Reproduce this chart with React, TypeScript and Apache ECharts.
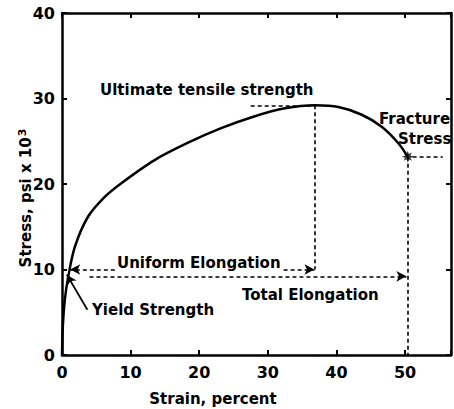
import React, { useEffect, useRef } from "react";
import * as echarts from "echarts";

// Engineering stress–strain curve (strain in %, stress in psi × 10³)
const strain = [0, 0.1, 0.4, 0.91, 1.88, 3.81, 6.23, 8.65, 13.5, 18.3, 23.1, 28.0, 32.5, 36.9, 40.3, 43.7, 46.6, 49.0, 50.4];
const stress = [0, 3.0, 6.4, 9.16, 12.67, 16.2, 18.5, 20.1, 22.8, 24.8, 26.5, 27.9, 28.85, 29.2, 29.0, 28.1, 26.7, 24.8, 23.2];

const xTicks = [0, 10, 20, 30, 40, 50];
const yTicks = [0, 10, 20, 30, 40];

// Key points on the curve
const ultimate = [36.9, 29.2];
const fracture = [50.4, 23.2];
const yieldPoint = [0.7, 9.4];
const uniformLevel = 10.0;
const totalLevel = 9.2;

const FONT = "DejaVu Sans";
const INK = "#000";

const starPath =
  "path://M0,-10 L1.8,-4.3 L7,-7 L4.3,-1.8 L10,0 L4.3,1.8 L7,7 L1.8,4.3 L0,10 L-1.8,4.3 L-7,7 L-4.3,1.8 L-10,0 L-4.3,-1.8 L-7,-7 L-1.8,-4.3 Z";

export default function App() {
  const ref = useRef<HTMLDivElement>(null);

  useEffect(() => {
    if (!ref.current) return;
    const chart = echarts.init(ref.current, undefined, { renderer: "svg" });

    const axisLine = { show: true, onZero: false, lineStyle: { color: INK, width: 2.5 } };
    const tick = { show: true, inside: true, length: 5, lineStyle: { color: INK, width: 2 } };
    const tickLabel = { color: INK, fontFamily: FONT, fontWeight: "bold" as const, fontSize: 16 };

    const dashed = { type: [4, 3] as number[], width: 1.6, color: INK };
    const seg = (a: number[], b: number[], arrowEnd = false, extra: any = {}) => [
      { coord: a, symbol: "none", ...extra },
      { coord: b, symbol: arrowEnd ? "arrow" : "none" },
    ];

    const txt = (text: string, x: number, y: number, align = "left") => ({
      type: "text",
      x,
      y,
      silent: true,
      style: {
        text,
        fill: INK,
        font: `bold 15px "${FONT}"`,
        align,
        verticalAlign: "middle",
      },
    });

    chart.setOption({
      animation: false,
      backgroundColor: "#fff",
      grid: { left: 62, right: 1, top: 13, bottom: 54 },
      xAxis: [
        {
          type: "value",
          min: 0,
          max: 56.7,
          interval: 10,
          position: "bottom",
          axisLine,
          axisTick: tick,
          splitLine: { show: false },
          axisLabel: {
            ...tickLabel,
            margin: 9,
            formatter: (v: number) => (xTicks.includes(v) ? String(v) : ""),
          },
        },
        {
          type: "value",
          min: 0,
          max: 56.7,
          interval: 10,
          position: "top",
          axisLine,
          axisTick: tick,
          splitLine: { show: false },
          axisLabel: { show: false },
        },
      ],
      yAxis: [
        {
          type: "value",
          min: 0,
          max: 40,
          interval: 10,
          position: "left",
          axisLine,
          axisTick: tick,
          splitLine: { show: false },
          axisLabel: {
            ...tickLabel,
            margin: 7,
            formatter: (v: number) => (yTicks.includes(v) ? String(v) : ""),
          },
        },
        {
          type: "value",
          min: 0,
          max: 40,
          interval: 10,
          position: "right",
          axisLine,
          axisTick: tick,
          splitLine: { show: false },
          axisLabel: { show: false },
        },
      ],
      series: [
        {
          type: "line",
          data: strain.map((s, i) => [s, stress[i]]),
          smooth: 0.3,
          symbol: "none",
          lineStyle: { color: INK, width: 2.5 },
          silent: true,
        },
        {
          type: "scatter",
          data: [fracture],
          symbol: starPath,
          symbolSize: 12,
          itemStyle: { color: INK },
          silent: true,
          z: 5,
          markLine: {
            silent: true,
            animation: false,
            symbolSize: [8, 10],
            label: { show: false },
            lineStyle: dashed,
            emphasis: { disabled: true },
            data: [
              seg([27.5, ultimate[1]], ultimate),
              seg(ultimate, [ultimate[0], uniformLevel]),
              seg([7.7, uniformLevel], [1.2, uniformLevel], true),
              seg([32.3, uniformLevel], [ultimate[0] - 0.1, uniformLevel], true),
              seg([4.0, totalLevel], [fracture[0] - 0.2, totalLevel], true),
              seg(fracture, [fracture[0], 0]),
              seg([fracture[0] + 0.7, fracture[1]], [55.5, fracture[1]]),
              seg([3.7, 5.3], yieldPoint, true, {
                lineStyle: { type: "solid", width: 1.8, color: INK },
              }),
            ],
          },
        },
      ],
      graphic: [
        txt("Ultimate tensile strength", 100, 90),
        txt("Uniform Elongation", 117, 263),
        txt("Total Elongation", 242, 295),
        txt("Yield Strength", 92, 310),
        txt("Fracture", 379, 119),
        txt("Stress", 398, 139),
        txt("Strain, percent", 213, 399, "center"),
        {
          type: "text",
          x: 26,
          y: 198,
          rotation: Math.PI / 2,
          silent: true,
          style: {
            text: "{a|Stress, psi x 10}{b|3}",
            align: "center",
            verticalAlign: "middle",
            rich: {
              a: { fontFamily: FONT, fontWeight: "bold", fontSize: 15, fill: INK, color: INK },
              b: {
                fontFamily: FONT,
                fontWeight: "bold",
                fontSize: 11,
                color: INK,
                fill: INK,
                verticalAlign: "top",
                padding: [0, 0, 8, 1],
              },
            },
          },
        },
      ],
    });

    return () => chart.dispose();
  }, []);

  return (
    <div
      ref={ref}
      style={{ position: "fixed", left: 0, top: 0, width: 454, height: 409, background: "#fff" }}
    />
  );
}
